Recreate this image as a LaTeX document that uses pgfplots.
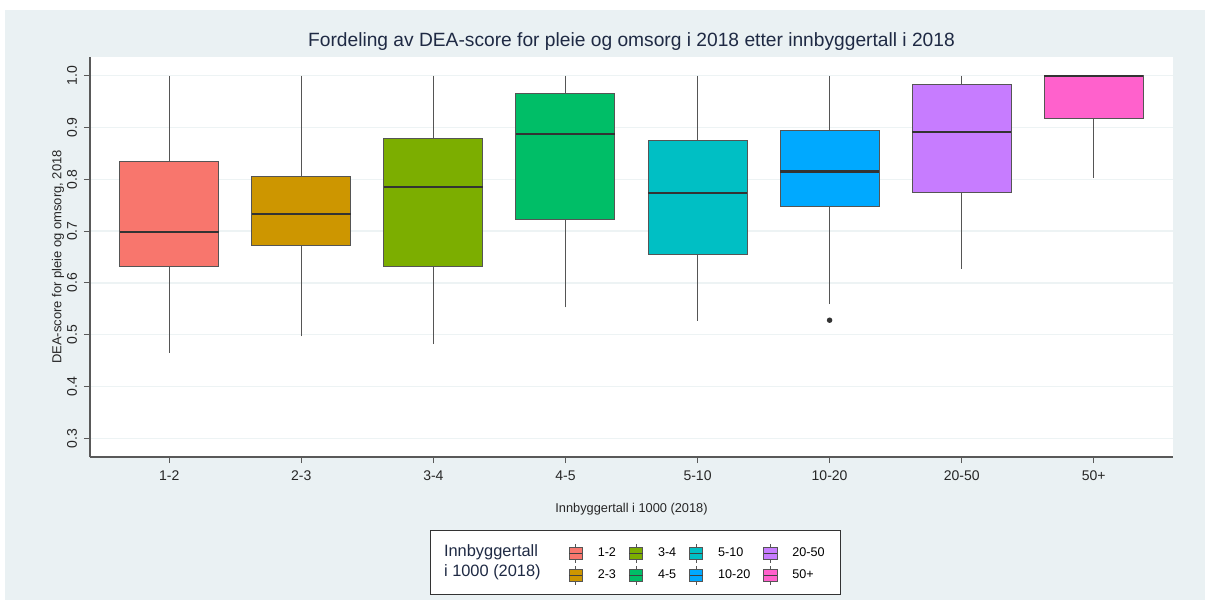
\documentclass[border=0pt]{standalone}
\usepackage{pgfplots}
\pgfplotsset{compat=1.18}
\usepgfplotslibrary{statistics}
\usepackage{fontspec}
\setmainfont{Liberation Sans}
\definecolor{bg}{HTML}{EAF1F3}
\definecolor{gridc}{HTML}{EDF3F4}
\definecolor{c1}{HTML}{F8766D}
\definecolor{c2}{HTML}{CD9600}
\definecolor{c3}{HTML}{7CAE00}
\definecolor{c4}{HTML}{00BE67}
\definecolor{c5}{HTML}{00BFC4}
\definecolor{c6}{HTML}{00A9FF}
\definecolor{c7}{HTML}{C77CFF}
\definecolor{c8}{HTML}{FF61CC}
\definecolor{txt}{HTML}{1F2A44}
\definecolor{edge}{HTML}{555555}
\pgfplotsset{
  bp/.style={boxplot prepared={#1}, solid, draw=edge, line width=0.5pt, forget plot,
    boxplot/draw direction=y,
    boxplot/box extend=0.75, boxplot/whisker extend=0,
    boxplot/every median/.style={line width=1.1pt, draw=black!80}},
  bpleg/.style={legend image code/.code={
    \draw[draw=edge, line width=0.4pt] (3.3pt,3.2pt) -- (3.3pt,4.8pt);
    \draw[draw=edge, line width=0.4pt] (3.3pt,-3.2pt) -- (3.3pt,-4.8pt);
    \draw[fill=#1, draw=edge, line width=0.4pt] (0pt,-3.2pt) rectangle (6.6pt,3.2pt);
    \draw[draw=black!75, line width=0.6pt] (0pt,0pt) -- (6.6pt,0pt);}}
}
\begin{document}
\begin{tikzpicture}
\fill[white] (0,0) rectangle (605pt,303pt);
\fill[bg] (2.5pt,3pt) rectangle (602.5pt,298pt);
\draw[black!80, line width=0.5pt, fill=white] (215pt,6pt) rectangle (420pt,38pt);
\node[anchor=west, align=left, font=\fontsize{8.2}{10}\selectfont, color=txt] at (218.5pt,22pt) {Innbyggertall\\i 1000 (2018)};
\begin{axis}[
  at={(45pt,74.5pt)}, anchor=south west,
  scale only axis, width=541.5pt, height=200pt,
  axis background/.style={fill=white},
  xmin=0.4, xmax=8.6, ymin=0.264, ymax=1.036,
  axis lines*=left,
  axis line style={draw=black!65, line width=0.6pt},
  xtick={1,...,8},
  xticklabels={1-2,2-3,3-4,4-5,5-10,10-20,20-50,50+},
  ytick={0.3,0.4,0.5,0.6,0.7,0.8,0.9,1.0},
  yticklabel style={rotate=90, /pgf/number format/.cd, fixed, fixed zerofill, precision=1, assume math mode=true},
  xticklabel style={/pgf/number format/assume math mode=true},
  tick label style={font=\fontsize{7}{8}\selectfont, color=black!85},
  tick style={draw=black!65, line width=0.5pt},
  tick align=outside, major tick length=3pt,
  ymajorgrids, grid style={draw=gridc, line width=0.6pt},
  xticklabel shift=0.5pt, yticklabel shift=0pt,
  title={Fordeling av DEA-score for pleie og omsorg i 2018 etter innbyggertall i 2018},
  title style={font=\fontsize{9.6}{11}\selectfont, color=txt, at={(0.5,1)}, anchor=center, yshift=1.5pt},
  xlabel={Innbyggertall i 1000 (2018)},
  xlabel style={font=\fontsize{6.4}{7}\selectfont, color=black!85, at={(0.5,0)}, anchor=center, yshift=-26pt},
  ylabel={DEA-score for pleie og omsorg, 2018},
  ylabel style={font=\fontsize{6.5}{7}\selectfont, color=black!85, at={(0,0.5)}, anchor=center, yshift=16pt},
  legend columns=2, transpose legend,
  legend style={at={(0.436,-0.205)}, anchor=north west, draw=none, fill=none,
    font=\fontsize{6.3}{7}\selectfont, row sep=1pt,
    /tikz/every odd column/.append style={column sep=5.4pt},
    /tikz/every even column/.append style={column sep=4.4pt}},
  legend cell align=left,
]
\addplot[bp={draw position=1, lower whisker=0.465, lower quartile=0.631, median=0.698, upper quartile=0.834, upper whisker=1.0}, fill=c1] coordinates {};
\addplot[bp={draw position=2, lower whisker=0.497, lower quartile=0.673, median=0.733, upper quartile=0.806, upper whisker=1.0}, fill=c2] coordinates {};
\addplot[bp={draw position=3, lower whisker=0.482, lower quartile=0.632, median=0.785, upper quartile=0.878, upper whisker=1.0}, fill=c3] coordinates {};
\addplot[bp={draw position=4, lower whisker=0.553, lower quartile=0.723, median=0.887, upper quartile=0.965, upper whisker=1.0}, fill=c4] coordinates {};
\addplot[bp={draw position=5, lower whisker=0.527, lower quartile=0.655, median=0.774, upper quartile=0.875, upper whisker=1.0}, fill=c5] coordinates {};
\addplot[bp={draw position=6, lower whisker=0.559, lower quartile=0.748, median=0.815, upper quartile=0.894, upper whisker=1.0}, fill=c6, mark=*, mark size=1.1pt, mark options={fill=black!80, draw=black!80}] coordinates {(0,0.528)};
\addplot[bp={draw position=7, lower whisker=0.627, lower quartile=0.775, median=0.891, upper quartile=0.983, upper whisker=1.0}, fill=c7] coordinates {};
\addplot[bp={draw position=8, lower whisker=0.802, lower quartile=0.918, median=1.0, upper quartile=1.0, upper whisker=1.0}, fill=c8] coordinates {};
\addlegendimage{bpleg=c1}\addlegendentry{1-2}
\addlegendimage{bpleg=c2}\addlegendentry{2-3}
\addlegendimage{bpleg=c3}\addlegendentry{3-4}
\addlegendimage{bpleg=c4}\addlegendentry{4-5}
\addlegendimage{bpleg=c5}\addlegendentry{5-10}
\addlegendimage{bpleg=c6}\addlegendentry{10-20}
\addlegendimage{bpleg=c7}\addlegendentry{20-50}
\addlegendimage{bpleg=c8}\addlegendentry{50+}
\end{axis}
\end{tikzpicture}
\end{document}
